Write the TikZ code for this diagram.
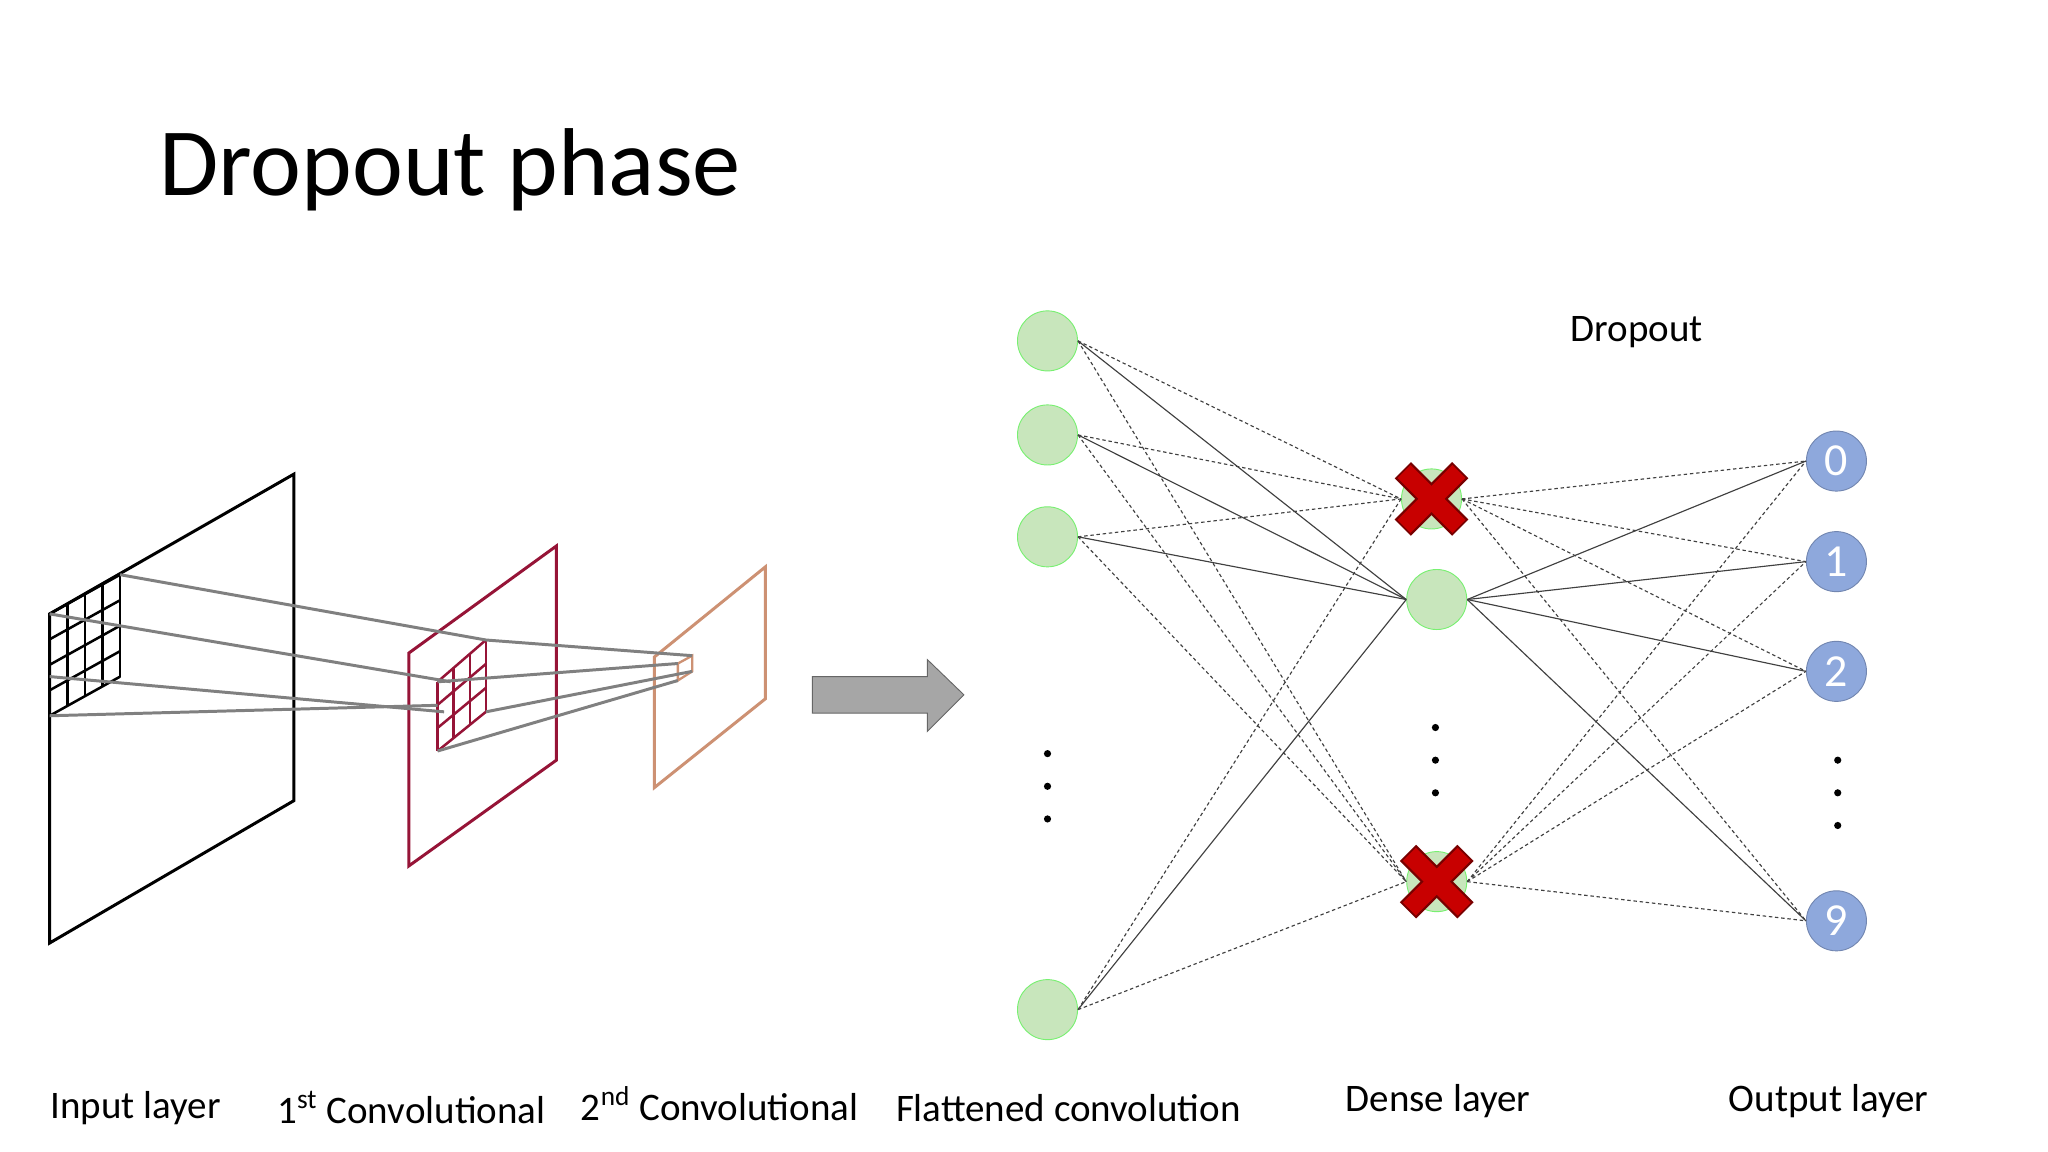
\documentclass[tikz,border=0pt]{standalone}
\usepackage{fontspec}
\setmainfont{Carlito}
\usetikzlibrary{calc}
\definecolor{convred}{RGB}{150,20,55}
\definecolor{convtan}{RGB}{205,145,115}
\definecolor{nodegreen}{RGB}{200,230,188}
\definecolor{nodeblue}{RGB}{142,168,220}
\definecolor{crossred}{RGB}{200,0,0}
\begin{document}
\begin{tikzpicture}[x=0.02cm,y=-0.02cm,
  neuron/.style={circle,minimum size=0.92cm,inner sep=0pt,draw=green!40!nodegreen,fill=nodegreen},
  outn/.style={circle,minimum size=0.92cm,inner sep=0pt,draw=nodeblue!80!black,fill=nodeblue,text=white,font=\fontsize{20}{22}\selectfont},
  lbl/.style={font=\fontsize{17}{20}\selectfont,anchor=center},
  solid edge/.style={black!75,line width=0.5pt},
  dash edge/.style={black!75,dashed,dash pattern=on 1.5pt off 1.2pt,line width=0.5pt},
  ray/.style={gray,line width=1.3pt},
  dot/.style={circle,fill=black,inner sep=0pt,minimum size=0.11cm}]
\useasboundingbox (0,0) rectangle (1568,882);
% title
\node[font=\fontsize{42}{46}\selectfont,anchor=west] (title) at (116,130) {Dropout phase};
% input layer
\draw[line width=1.3pt] (38,470) -- (225,363) -- (225,613) -- (38,722) -- cycle;
\foreach \t in {0,1,2,3,4}{
  \draw[line width=1.1pt] ($(38,470)!\t/4!(92,440)$) -- ($(38,548)!\t/4!(92,518)$);
  \draw[line width=1.1pt] ($(38,470)!\t/4!(38,548)$) -- ($(92,440)!\t/4!(92,518)$);
}
% first convolutional
\draw[convred,line width=1.3pt] (313,500) -- (426,418) -- (426,582) -- (313,663) -- cycle;
\foreach \t in {0,1,2,3}{
  \draw[convred,line width=1.1pt] ($(335,522)!\t/3!(372,490)$) -- ($(335,575)!\t/3!(372,545)$);
  \draw[convred,line width=1.1pt] ($(335,522)!\t/3!(335,575)$) -- ($(372,490)!\t/3!(372,545)$);
}
\draw[ray] (92,440) -- (372,490);
\draw[ray] (38,470) -- (345,522);
\draw[ray] (38,518) -- (340,545);
\draw[ray] (38,548) -- (335,540);
% second convolutional
\draw[convtan,line width=1.3pt] (501,503) -- (586,434) -- (586,535) -- (501,603) -- cycle;
\draw[convtan,line width=1pt] (519,508) -- (530,502) -- (530,514) -- (519,521) -- cycle;
\draw[ray] (372,490) -- (530,502);
\draw[ray] (335,522) -- (519,508);
\draw[ray] (372,545) -- (530,514);
\draw[ray] (335,575) -- (519,521);
% arrow
\draw[gray!80!black,fill=gray!70] (622,518) -- (710,518) -- (710,505) -- (738,532)
  -- (710,560) -- (710,546) -- (622,546) -- cycle;
% flattened
\foreach \n/\y in {1/261,2/333,3/411,4/773} \node[neuron] (f\n) at (802,\y) {};
\foreach \y in {577,602,627} \node[dot] (fd\y) at (802,\y) {};
% dense
\node[neuron] (d1) at (1096,382) {};
\node[neuron] (d2) at (1100,459) {};
\node[neuron] (d3) at (1100,675) {};
\foreach \y in {557,582,607} \node[dot] (dd\y) at (1099,\y) {};
% output
\foreach \n/\y/\t in {1/353/0,2/430/1,3/514/2,4/705/9} \node[outn] (o\n) at (1406,\y) {\t};
\foreach \y in {582,607,632} \node[dot] (od\y) at (1407,\y) {};
% edges
\foreach \i in {1,2,3,4}{
  \draw[solid edge] (f\i.east) -- (d2.west);
  \draw[dash edge] (f\i.east) -- (d1.west);
  \draw[dash edge] (f\i.east) -- (d3.west);
  \draw[solid edge] (d2.east) -- (o\i.west);
  \draw[dash edge] (d1.east) -- (o\i.west);
  \draw[dash edge] (d3.east) -- (o\i.west);
}
% dropped crosses
\foreach \n in {d1,d3}{
  \draw[crossred!60!black,line width=10pt] ([shift={(-22,-22)}]\n.center) -- ([shift={(22,22)}]\n.center);
  \draw[crossred!60!black,line width=10pt] ([shift={(-22,22)}]\n.center) -- ([shift={(22,-22)}]\n.center);
  \draw[crossred,line width=8pt] ([shift={(-21,-21)}]\n.center) -- ([shift={(21,21)}]\n.center);
  \draw[crossred,line width=8pt] ([shift={(-21,21)}]\n.center) -- ([shift={(21,-21)}]\n.center);
}
% labels
\node[lbl] (ldrop) at (1253,254) {Dropout};
\node[lbl] (l1) at (104,848) {Input layer};
\node[lbl] (l2) at (315,848) {1\textsuperscript{st} Convolutional};
\node[lbl] (l3) at (551,845) {2\textsuperscript{nd} Convolutional};
\node[lbl] (l4) at (818,848) {Flattened convolution};
\node[lbl] (l5) at (1101,843) {Dense layer};
\node[lbl] (l6) at (1400,843) {Output layer};
\end{tikzpicture}
\end{document}
